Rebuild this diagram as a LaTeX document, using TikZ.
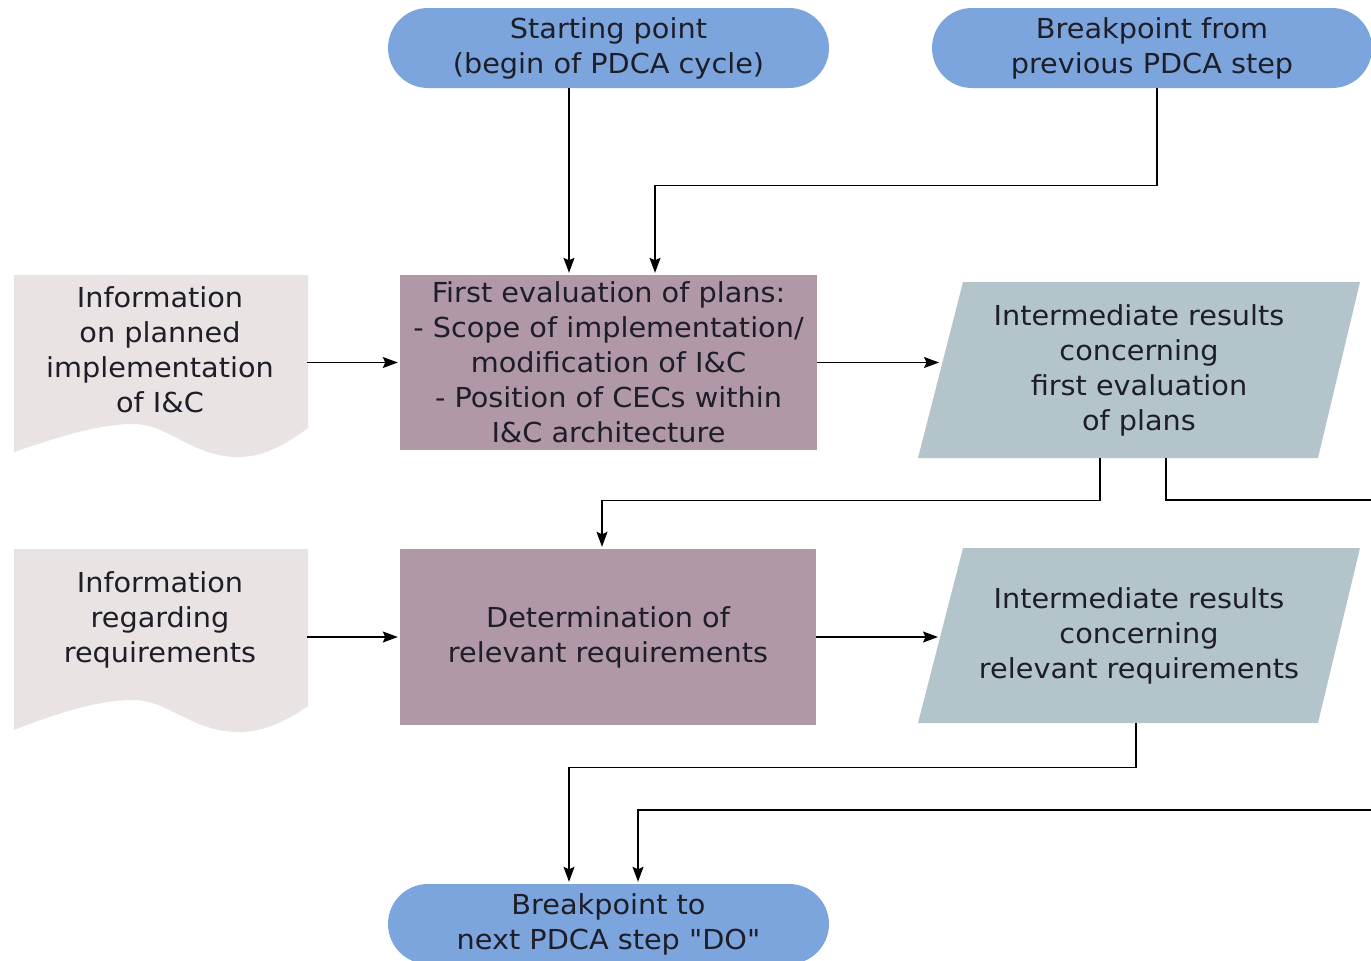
\documentclass[tikz,border=0pt]{standalone}
\usepackage{fontspec}
\setmainfont[FakeStretch=1.045, Ligatures=TeXOff]{DejaVu Sans}
\usetikzlibrary{arrows.meta,calc}
\definecolor{termblue}{RGB}{124,165,221}
\definecolor{procmauve}{RGB}{176,152,166}
\definecolor{paragray}{RGB}{180,196,203}
\definecolor{docgray}{RGB}{233,227,228}
\definecolor{txt}{RGB}{30,30,40}
\begin{document}
\begin{tikzpicture}[x=1pt,y=-1pt,
  every node/.style={font=\fontsize{27.5}{35}\selectfont, text=txt, align=center, inner sep=0pt},
  term/.style={rounded corners=40pt, fill=termblue, minimum width=441pt, minimum height=80pt},
  proc/.style={fill=procmauve, minimum width=417pt},
  arr/.style={-{Stealth[length=15pt,width=11pt,inset=2.5pt]}, line width=1.4pt, black, shorten >=2pt},
  ln/.style={line width=1.4pt, black}]
\useasboundingbox (0,0) rectangle (1371,961);
\clip (0,0) rectangle (1371,961);
% terminals
\node[term] (start) at (608.5,48) {Starting point\\(begin of PDCA cycle)};
\node[term, minimum width=440pt] (bpfrom) at (1152,48) {Breakpoint from\\previous PDCA step};
\node[term] (bpto) at (608.5,924) {Breakpoint to\\next PDCA step "DO"};
% processes
\node[proc, minimum height=175pt] (proc1) at (608.5,362.5) {First evaluation of plans:\\- Scope of implementation/\\modification of I\&C\\- Position of CECs within\\I\&C architecture};
\node[proc, minimum width=416pt, minimum height=176pt] (proc2) at (608,637) {Determination of\\relevant requirements};
% documents
\fill[docgray] (14,275) -- (308,275) -- (308,428) .. controls (285,445) and (262,458) .. (235,457) .. controls (190,455) and (168,424) .. (133,424) .. controls (95,424) and (50,440) .. (14,452) -- cycle;
\begin{scope}[shift={(0,274)}]
\fill[docgray] (14,275) -- (308,275) -- (308,432) .. controls (285,448) and (262,459) .. (235,458) .. controls (190,456) and (168,426) .. (133,426) .. controls (95,426) and (50,442) .. (14,456) -- cycle;
\end{scope}
\node[minimum width=294pt, minimum height=150pt] (doc1) at (160,350) {Information\\on planned\\implementation\\of I\&C};
\node[minimum width=294pt, minimum height=150pt] (doc2) at (160,620) {Information\\regarding\\requirements};
% parallelograms
\fill[paragray] (963,282) -- (1360,282) -- (1318,458) -- (918,458) -- cycle;
\fill[paragray] (963,548) -- (1360,548) -- (1318,723) -- (918,723) -- cycle;
\node[minimum width=442pt, minimum height=176pt] (para1) at (1139,370) {Intermediate results\\concerning\\first evaluation\\of plans};
\node[minimum width=442pt, minimum height=175pt] (para2) at (1139,635.5) {Intermediate results\\concerning\\relevant requirements};
\coordinate (para1in) at (941,362.5);
\coordinate (para2in) at (940,637);
\coordinate (outR1) at (1371,500);
\coordinate (inR2) at (1371,810);
% connectors
\draw[arr] ([xshift=-39.5pt]start.south) -- ([xshift=-39.5pt]proc1.north);
\draw[arr] ([xshift=5pt]bpfrom.south) -- ++(0,97) -| ([xshift=46.5pt]proc1.north);
\draw[arr] (doc1.east |- proc1.west) -- (proc1.west);
\draw[arr] (proc1.east) -- (para1in);
\draw[arr] ([xshift=-39pt]para1.south) -- ++(0,42) -| ([xshift=-6pt]proc2.north);
\draw[ln] ([xshift=27pt]para1.south) |- (outR1);
\draw[arr] (doc2.east |- proc2.west) -- (proc2.west);
\draw[arr] (proc2.east) -- (para2in);
\draw[arr] ([xshift=-3pt]para2.south) -- ++(0,44) -| ([xshift=-39.5pt]bpto.north);
\draw[arr] (inR2) -| ([xshift=29.5pt]bpto.north);
\end{tikzpicture}
\end{document}
